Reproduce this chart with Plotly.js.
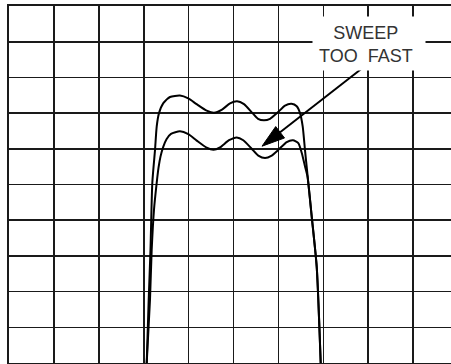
<!DOCTYPE html>
<html>
<head>
<meta charset="utf-8">
<script src="https://cdn.plot.ly/plotly-3.0.1.min.js"></script>
<style>html,body{margin:0;padding:0;background:#fff;overflow:hidden;}</style>
</head>
<body>
<div id="chart" style="width:451px;height:364px;"></div>
<script>
// Response trace, normal sweep (upper) - x and y in graticule divisions
var upperX = [3.067, 3.111, 3.151, 3.192, 3.252, 3.290, 3.341, 3.437, 3.586, 3.808, 3.993, 4.180, 4.403, 4.566, 4.744, 4.922, 5.078, 5.234, 5.423, 5.546, 5.679, 5.813, 5.969, 6.147, 6.292, 6.408, 6.481, 6.541, 6.592, 6.644, 6.742, 6.853, 6.942];
var upperY = [0.00, 1.77, 3.17, 5.05, 5.97, 6.63, 7.00, 7.28, 7.45, 7.49, 7.41, 7.25, 7.07, 7.01, 7.10, 7.27, 7.33, 7.25, 7.00, 6.84, 6.80, 6.84, 7.00, 7.21, 7.26, 7.19, 7.00, 6.63, 5.97, 5.32, 4.10, 2.70, 0.00];
// Response trace, sweep too fast (lower)
var lowerX = [3.067, 3.140, 3.178, 3.229, 3.290, 3.330, 3.374, 3.437, 3.508, 3.608, 3.808, 3.993, 4.180, 4.403, 4.555, 4.699, 4.900, 5.071, 5.218, 5.405, 5.552, 5.702, 5.851, 5.998, 6.185, 6.325, 6.443, 6.519, 6.592, 6.648, 6.742, 6.853, 6.942];
var lowerY = [0.00, 1.77, 3.17, 4.29, 5.05, 5.47, 5.78, 6.06, 6.27, 6.42, 6.49, 6.41, 6.23, 6.03, 5.97, 6.04, 6.24, 6.32, 6.24, 6.00, 5.81, 5.74, 5.81, 5.97, 6.19, 6.24, 6.16, 5.89, 5.51, 5.22, 4.10, 2.70, 0.00];

var labelLines = ["SWEEP", "TOO\u00a0\u00a0FAST"];

var lineStyle = {color: '#000', width: 2, shape: 'spline', smoothing: 0.6};
var traces = [
  {x: upperX, y: upperY, mode: 'lines', line: lineStyle, hoverinfo: 'skip', showlegend: false},
  {x: lowerX, y: lowerY, mode: 'lines', line: lineStyle, hoverinfo: 'skip', showlegend: false}
];

var layout = {
  width: 451, height: 364,
  margin: {l: 9, r: 0, t: 6, b: 1, pad: 0},
  paper_bgcolor: '#fff', plot_bgcolor: '#fff',
  showlegend: false,
  xaxis: {range: [0, 9.844], dtick: 1, tick0: 0, showgrid: true, gridcolor: '#1a1a1a', gridwidth: 1.6,
          showticklabels: false, ticks: '', zeroline: false, showline: true, linecolor: '#1a1a1a', linewidth: 2, mirror: true, fixedrange: true},
  yaxis: {range: [0, 10], dtick: 1, tick0: 0, showgrid: true, gridcolor: '#1a1a1a', gridwidth: 1.6,
          showticklabels: false, ticks: '', zeroline: false, showline: true, linecolor: '#1a1a1a', linewidth: 2, mirror: false, fixedrange: true},
  shapes: [
    {type: 'line', xref: 'x', yref: 'y', x0: 7.973, y0: 8.359, x1: 6.038, y1: 6.463, line: {color: '#000', width: 2}},
    {type: 'path', xref: 'x', yref: 'y', path: 'M5.635,6.073 L6.136,6.303 L5.940,6.623 Z', fillcolor: '#000', line: {color: '#000', width: 1}}
  ],
  annotations: [
    {x: 8.02, y: 8.96, xref: 'x', yref: 'y', xanchor: 'center', yanchor: 'middle',
     text: ' ', showarrow: false, bgcolor: '#fff', width: 112, height: 53, borderpad: 0},
    {x: 7.95, y: 8.93, xref: 'x', yref: 'y', xanchor: 'center', yanchor: 'middle',
     text: labelLines.join('<br>'), showarrow: false, borderpad: 0,
     align: 'center', font: {family: 'Liberation Sans', size: 18, color: '#333'}}
  ]
};

Plotly.newPlot('chart', traces, layout, {staticPlot: true, displayModeBar: false});
</script>
</body>
</html>
